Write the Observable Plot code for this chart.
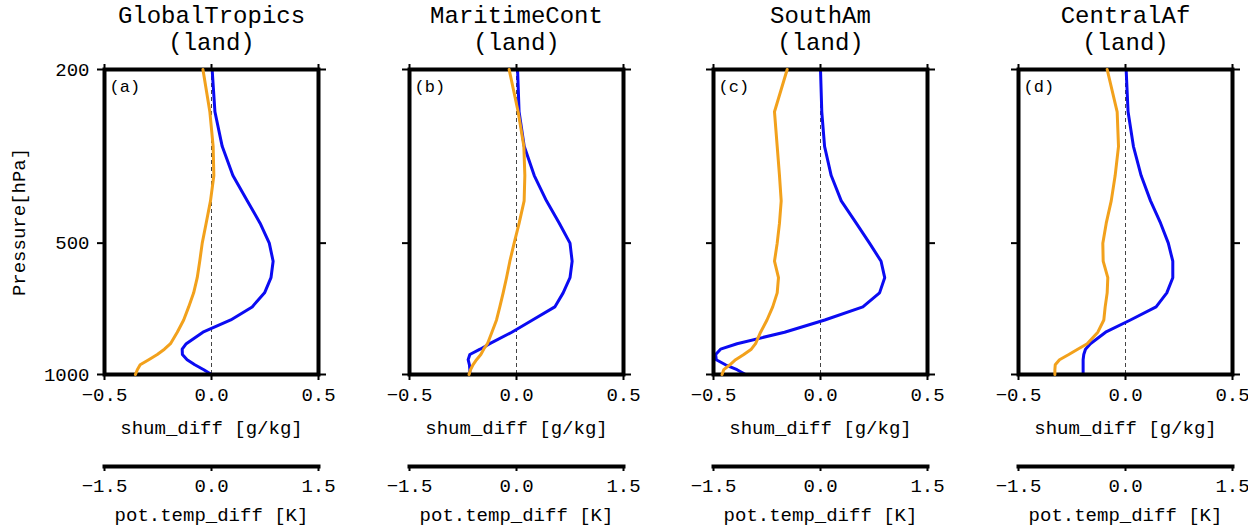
<!DOCTYPE html>
<html><head><meta charset="utf-8">
<script src="https://cdn.jsdelivr.net/npm/d3@7"></script>
<script src="https://cdn.jsdelivr.net/npm/@observablehq/plot@0.6"></script>
<style>
html,body{margin:0;padding:0;background:#fff;overflow:hidden;}
#chart{position:relative;width:1248px;height:526px;background:#fff;overflow:hidden;}
#chart svg{position:absolute;}
</style></head><body><div id="chart"></div>
<script>
// ---- data ----
const levels = [200,250,300,350,400,450,500,550,600,650,700,750,800,850,875,900,925,950,975,1000];
const regions = ["GlobalTropics","MaritimeCont","SouthAm","CentralAf"];
const subtitle = "(land)";
const panelLabels = ["(a)","(b)","(c)","(d)"];
const shumTicks = [-0.5, 0, 0.5];
const tempTicks = [-1.5, 0, 1.5];
const pressureTicks = [200, 500, 1000];
const shumLabel = "shum_diff [g/kg]";
const tempLabel = "pot.temp_diff [K]";
const pressureLabel = "Pressure[hPa]";

const shumGlobal   = [0.003,0.016,0.05,0.10,0.167,0.227,0.27,0.288,0.278,0.248,0.19,0.09,-0.04,-0.118,-0.137,-0.136,-0.114,-0.078,-0.036,0.0];
const tempGlobal   = [-0.12,-0.023,0.023,0.033,-0.014,-0.075,-0.13,-0.165,-0.2,-0.25,-0.32,-0.39,-0.48,-0.575,-0.66,-0.76,-0.88,-1.0,-1.04,-1.066];
const shumMaritime = [0.005,0.012,0.036,0.083,0.14,0.2,0.25,0.26,0.25,0.218,0.179,0.075,-0.022,-0.125,-0.17,-0.218,-0.226,-0.22,-0.218,-0.218];
const tempMaritime = [-0.103,0.023,0.103,0.117,0.107,0.037,-0.033,-0.093,-0.14,-0.187,-0.234,-0.28,-0.345,-0.407,-0.46,-0.5,-0.56,-0.61,-0.645,-0.665];
const shumSouthAm  = [0.0,0.006,0.019,0.05,0.097,0.167,0.229,0.283,0.3,0.276,0.198,0.02,-0.168,-0.39,-0.467,-0.49,-0.487,-0.444,-0.39,-0.35];
const tempSouthAm  = [-0.467,-0.645,-0.607,-0.575,-0.551,-0.575,-0.607,-0.645,-0.589,-0.607,-0.67,-0.75,-0.84,-0.91,-0.97,-1.075,-1.19,-1.27,-1.356,-1.38];
const shumCentral  = [0.003,0.012,0.037,0.073,0.117,0.164,0.2,0.221,0.221,0.193,0.143,0.023,-0.093,-0.164,-0.187,-0.195,-0.198,-0.198,-0.198,-0.198];
const tempCentral  = [-0.257,-0.117,-0.098,-0.145,-0.2,-0.27,-0.318,-0.313,-0.248,-0.257,-0.285,-0.304,-0.388,-0.537,-0.67,-0.795,-0.925,-0.985,-0.99,-0.99];

const shumSeries = [shumGlobal, shumMaritime, shumSouthAm, shumCentral];
const tempSeries = [tempGlobal, tempMaritime, tempSouthAm, tempCentral];

// ---- layout ----
const FONT = "'Liberation Mono','DejaVu Sans Mono',monospace";
const FW = 214, FH = 305, FT = 69;
const ML = 100, MR = 16, MB = 75;
const W = ML + FW + MR;
const HA = FT + FH + MB;
const BLUE = "#0b0bf2", ORANGE = "#f2a11c";
const chart = document.getElementById("chart");

function place(svg, left, top) {
  svg.style.left = left + "px";
  svg.style.top = top + "px";
  svg.style.background = "transparent";
  svg.style.overflow = "visible";
  svg.style.maxWidth = "none";
  svg.style.fontFamily = FONT;
  svg.style.fontSize = "19px";
  chart.appendChild(svg);
}

const yScale = {type: "log", domain: [200, 1000], reverse: true};
const fmt = d3.format(".1f");

for (let i = 0; i < 4; i++) {
  const fl = 104 + i * 304.6;
  const shumData = levels.map((p, j) => ({p, v: shumSeries[i][j]}));
  const tempData = levels.map((p, j) => ({p, v: tempSeries[i][j]}));

  const marks = [
    Plot.ruleX([0], {stroke: "#444", strokeWidth: 1, strokeDasharray: "4,3"}),
    Plot.line(shumData, {x: "v", y: "p", stroke: BLUE, strokeWidth: 3}),
    Plot.frame({stroke: "black", strokeWidth: 4}),
    Plot.axisX({ticks: shumTicks, anchor: "bottom", tickSize: 6, tickPadding: 7, strokeWidth: 2, tickFormat: fmt, label: null}),
    Plot.axisX({ticks: shumTicks, anchor: "top", tickSize: 6, strokeWidth: 2, tickFormat: () => "", label: null}),
    Plot.axisY({ticks: pressureTicks, anchor: "left", tickSize: 7, tickPadding: 8, strokeWidth: 2, tickFormat: i === 0 ? (d => String(d)) : (() => ""), label: null}),
    Plot.axisY({ticks: pressureTicks, anchor: "right", tickSize: 7, strokeWidth: 2, tickFormat: () => "", label: null}),
    Plot.text([regions[i]], {text: d => d, frameAnchor: "top", dy: -47, textAnchor: "middle", lineAnchor: "bottom", fontSize: 24}),
    Plot.text([subtitle], {text: d => d, frameAnchor: "top", dy: -20, textAnchor: "middle", lineAnchor: "bottom", fontSize: 24}),
    Plot.text([panelLabels[i]], {text: d => d, frameAnchor: "top-left", dx: 5, dy: 17.5, textAnchor: "start", lineAnchor: "middle", fontSize: 17}),
    Plot.text([shumLabel], {text: d => d, frameAnchor: "bottom", dy: 53, textAnchor: "middle", lineAnchor: "middle", fontSize: 19})
  ];
  if (i === 0) {
    marks.push(Plot.text([pressureLabel], {text: d => d, frameAnchor: "left", dx: -86, rotate: -90, textAnchor: "middle", lineAnchor: "middle", fontSize: 19}));
  }

  const plotA = Plot.plot({
    width: W, height: HA,
    marginLeft: ML, marginRight: MR, marginTop: FT, marginBottom: MB,
    x: {domain: [-0.5, 0.5]},
    y: yScale,
    marks
  });
  place(plotA, fl - ML, 0);

  const plotB = Plot.plot({
    width: W, height: HA,
    marginLeft: ML, marginRight: MR, marginTop: FT, marginBottom: MB,
    x: {domain: [-1.5, 1.5], axis: null},
    y: {...yScale, axis: null},
    marks: [
      Plot.line(tempData, {x: "v", y: "p", stroke: ORANGE, strokeWidth: 3})
    ]
  });
  place(plotB, fl - ML, 0);

  const plotC = Plot.plot({
    width: W, height: 100,
    marginLeft: ML, marginRight: MR, marginTop: 16, marginBottom: 64,
    x: {domain: [-1.5, 1.5]},
    marks: [
      Plot.frame({anchor: "bottom", stroke: "black", strokeWidth: 4}),
      Plot.axisX({ticks: tempTicks, anchor: "bottom", tickSize: 5, tickPadding: 7, strokeWidth: 2, tickFormat: fmt, label: null}),
      Plot.text([tempLabel], {text: d => d, frameAnchor: "bottom", dy: 48, textAnchor: "middle", lineAnchor: "middle", fontSize: 19})
    ]
  });
  place(plotC, fl - ML, 430);
}
</script></body></html>
